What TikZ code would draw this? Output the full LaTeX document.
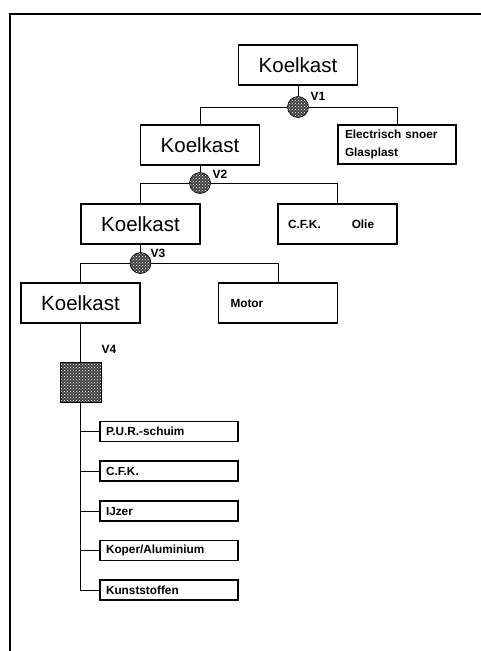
\documentclass[tikz,border=0pt]{standalone}
\usepackage{fontspec}
\setmainfont{Liberation Sans}
\usetikzlibrary{patterns}
\begin{document}
\begin{tikzpicture}[x=1pt,y=-1pt,
  bigbox/.style={draw, line width=1.1pt, minimum width=119pt, minimum height=40pt,
    inner sep=0pt, font=\fontsize{20.5}{24}\selectfont},
  infobox/.style={draw, line width=1.1pt, minimum width=119pt, minimum height=40pt,
    text width=#1, align=left, inner ysep=0pt, font=\bfseries\fontsize{11.8}{18}\selectfont},
  leafbox/.style={draw, line width=1.1pt, minimum width=138pt, minimum height=20pt,
    text width=126pt, inner xsep=6pt, inner ysep=0pt, align=left,
    font=\bfseries\fontsize{11.8}{14}\selectfont},
  meshfill/.style={preaction={fill=black!75}, pattern=crosshatch dots, pattern color=white},
  junction/.style={circle, draw, line width=0.6pt, minimum size=21pt, inner sep=0pt, meshfill},
  block/.style={draw, line width=0.8pt, minimum width=41pt, minimum height=40pt, inner sep=0pt, meshfill},
  vlabel/.style={font=\bfseries\fontsize{12}{14}\selectfont, inner sep=0pt},
  link/.style={line width=0.8pt}
]
\useasboundingbox (0,0) rectangle (481,651);

% frame
\draw[line width=2pt] (9.5,651) -- (9.5,14) -- (481,14);

% level 1
\node[bigbox] (k1) at (298,65) {Koelkast};
\node[junction] (v1) at (298,107) {};
\node[vlabel] (l1) at (318,96) {V1};
\node[bigbox] (k2) at (200,145) {Koelkast};
\node[infobox=104pt, inner xsep=7pt, minimum width=118pt, minimum height=39pt] (es) at (397,144.5)
  {Electrisch snoer\\Glasplast};

% level 2
\node[junction] (v2) at (200,183) {};
\node[vlabel] (l2) at (220,174) {V2};
\node[bigbox] (k3) at (140.5,224) {Koelkast};
\node[infobox=99pt, inner xsep=10pt] (cfk) at (337.5,224) {C.F.K.\hspace{31pt}Olie};

% level 3
\node[junction] (v3) at (140.5,263) {};
\node[vlabel] (l3) at (158,253) {V3};
\node[bigbox] (k4) at (80.5,303) {Koelkast};
\node[infobox=95pt, inner xsep=12pt] (motor) at (278,303) {Motor};

% level 4
\node[vlabel] (l4) at (109,349) {V4};
\node[block] (sq) at (80.5,382) {};
\node[leafbox] (m1) at (169,431.5) {P.U.R.-schuim};
\node[leafbox] (m2) at (169,471) {C.F.K.};
\node[leafbox] (m3) at (169,511) {IJzer};
\node[leafbox] (m4) at (169,550.5) {Koper/Aluminium};
\node[leafbox] (m5) at (169,590) {Kunststoffen};

% connectors
\draw[link] (k1.south) -- (v1.north);
\draw[link] (v1.west) -| (k2.north);
\draw[link] (v1.east) -| (es.north);
\draw[link] (k2.south) -- (v2.north);
\draw[link] (v2.west) -| (k3.north);
\draw[link] (v2.east) -| (cfk.north);
\draw[link] (k3.south) -- (v3.north);
\draw[link] (v3.west) -| (k4.north);
\draw[link] (v3.east) -| (motor.north);
\draw[link] (k4.south) -- (sq.north);
\draw[link] (sq.south) |- (m5.west);
\foreach \m in {m1,m2,m3,m4}
  \draw[link] (\m.west) -- (\m.west -| sq.south);
\end{tikzpicture}
\end{document}
